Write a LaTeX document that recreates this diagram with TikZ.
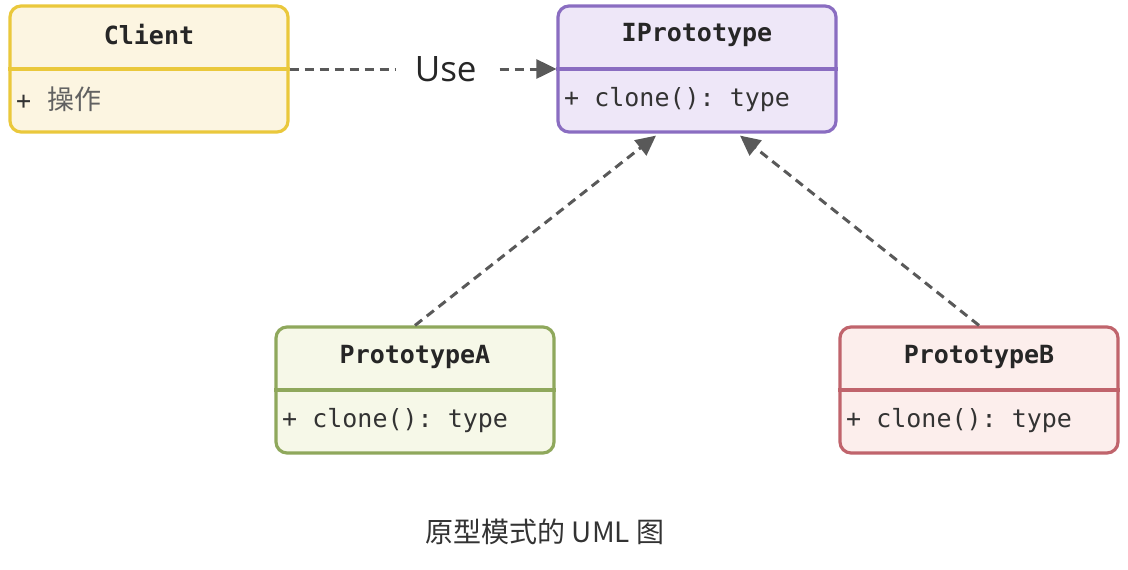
\documentclass[tikz,border=0pt]{standalone}
\usepackage{fontspec}
\setmonofont{DejaVu Sans Mono}
\newfontfamily\cjk{Noto Sans CJK SC}
\newfontfamily\uisans{Open Sans}
\usetikzlibrary{arrows.meta,calc}
\definecolor{cliB}{HTML}{EAC83C}
\definecolor{cliF}{HTML}{FCF5E1}
\definecolor{ipB}{HTML}{8A6DC1}
\definecolor{ipF}{HTML}{EEE7F8}
\definecolor{paB}{HTML}{8FA85C}
\definecolor{paF}{HTML}{F6F8E8}
\definecolor{pbB}{HTML}{C0646C}
\definecolor{pbF}{HTML}{FCEEEC}
\definecolor{lineC}{HTML}{595959}
\begin{document}
\begin{tikzpicture}[x=1pt,y=-1pt,
  umlbox/.style={draw, line width=3.2pt, rounded corners=11pt, minimum width=278pt, minimum height=126pt, inner sep=0pt},
  divider/.style={line width=3.2pt},
  title/.style={font=\fontsize{25}{29}\selectfont\ttfamily\bfseries, text=black!85},
  method/.style={anchor=west, font=\fontsize{25}{29}\selectfont\ttfamily, text=black!80, inner sep=0pt},
  conn/.style={draw=lineC, line width=3pt, dash pattern=on 9pt off 6pt, -{Triangle[length=20pt,width=19pt,fill=lineC]}},
  lbl/.style={fill=white, font=\fontsize{35}{40}\selectfont\uisans, text=black!85, inner xsep=19pt, inner ysep=4pt},
  caption/.style={font=\fontsize{28}{32}\selectfont\cjk, text=black!80}]
\useasboundingbox (0,0) rectangle (1128,570);

% Client
\node[umlbox, draw=cliB, fill=cliF] (client) at (149,69) {};
\draw[divider, cliB] (client.west) -- (client.east);
\node[title] (clientT) at (149,35) {Client};
\node[method] (clientM) at (16,99) {+\hspace{16pt}{\fontsize{27}{30}\selectfont\cjk\color{black!62}操作}};

% IPrototype
\node[umlbox, draw=ipB, fill=ipF] (ip) at (697,69) {};
\draw[divider, ipB] (ip.west) -- (ip.east);
\node[title] (ipT) at (697,35) {IPrototype};
\node[method] (ipM) at (564,100) {+ clone(): type};

% PrototypeA
\node[umlbox, draw=paB, fill=paF] (pa) at (415,390) {};
\draw[divider, paB] (pa.west) -- (pa.east);
\node[title] (paT) at (415,357) {PrototypeA};
\node[method] (paM) at (282,421) {+ clone(): type};

% PrototypeB
\node[umlbox, draw=pbB, fill=pbF] (pb) at (979,390) {};
\draw[divider, pbB] (pb.west) -- (pb.east);
\node[title] (pbT) at (979,357) {PrototypeB};
\node[method] (pbM) at (846,421) {+ clone(): type};

% connectors
\draw[conn] (client.east) -- node[lbl, pos=0.585] (use) {Use} (ip.west);
\coordinate (ipA) at ($(ip.south)+(-41,2)$);
\coordinate (ipB) at ($(ip.south)+(43,2)$);
\draw[conn] (pa.north) -- (ipA);
\draw[conn] (pb.north) -- (ipB);

% caption
\node[caption] (cap) at (545,532) {原型模式的 UML 图};
\end{tikzpicture}
\end{document}
